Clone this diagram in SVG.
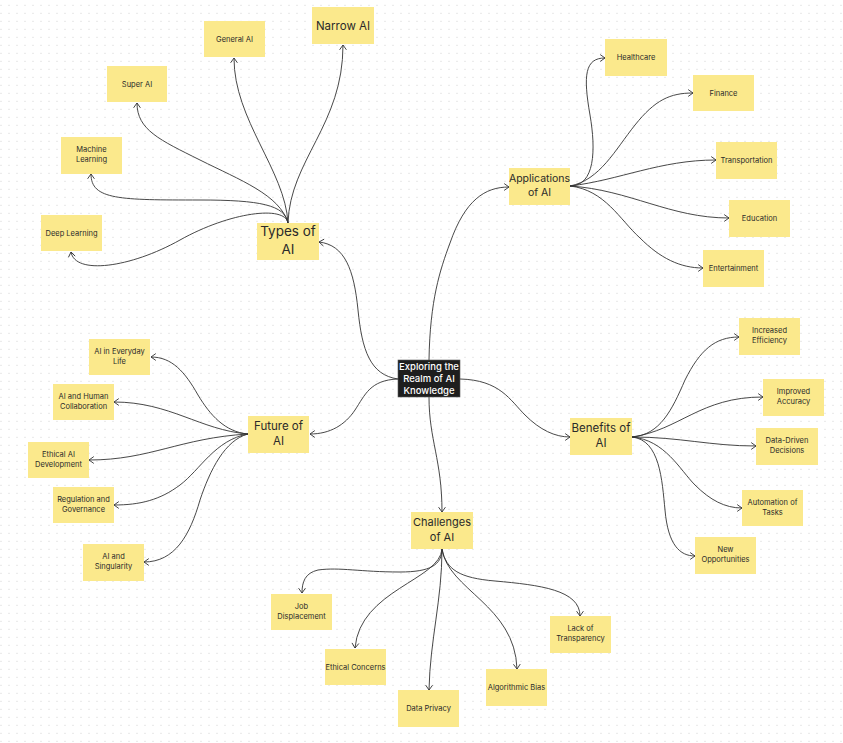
<svg xmlns="http://www.w3.org/2000/svg" width="843" height="743" viewBox="0 0 843 743">
<defs>
<pattern id="dots" x="0" y="0" width="8" height="8" patternUnits="userSpaceOnUse">
<rect x="0.5" y="4.8" width="1" height="1" fill="#cfcfcf"/>
</pattern>
<marker id="arr" markerWidth="10" markerHeight="10" refX="0" refY="0" orient="auto" markerUnits="userSpaceOnUse" viewBox="-6 -5 8 10" overflow="visible">
<path d="M-4.5,-3.2 L0,0 L-4.5,3.2" fill="none" stroke="#333" stroke-width="0.9" stroke-linecap="round" stroke-linejoin="round"/>
</marker>
<style>
.st{fill:#fbe98c;}
.ctr{fill:#1e1e1e;stroke:#5a5a5a;stroke-width:0.6;}
text{font-family:Inter,"Noto Sans","Liberation Sans",sans-serif;fill:#2a2a2a;text-anchor:middle;}
.s{font-size:7.5px;}
.m{font-size:11.5px;}
.l{font-size:13.5px;}
.c{font-size:9.5px;fill:#ffffff;font-weight:500;}
.cn path{fill:none;stroke:#333;stroke-width:0.9;marker-end:url(#arr);}
</style>
</defs>
<rect width="843" height="743" fill="#ffffff"/>
<rect width="843" height="743" fill="url(#dots)"/>

<g id="connectors" class="cn">
<path d="M398,379 C370,375 362,350 358,310 C354,270 345,245 319,242"/>
<path d="M429,360 C430,300 440,270 450,243 C465,200 485,187 509,187"/>
<path d="M398,379 C370,380 365,395 355,410 C345,425 330,434 310,434"/>
<path d="M460,379 C500,380 510,400 525,415 C540,430 555,437 570,437"/>
<path d="M429,397 C429,440 442,460 442,512"/>
<path d="M288,223 C290,160 343,125 343,45"/>
<path d="M288,223 C285,170 234,120 234,58"/>
<path d="M288,223 C280,195 240,180 200,160 C160,140 137,130 137,103"/>
<path d="M288,223 C285,205 260,200 200,200 C120,200 91,200 91,174"/>
<path d="M288,223 C285,205 230,212 180,240 C130,268 75,275 71,252"/>
<path d="M570,186 C595,186 596,150 590,115 C583,75 585,58 605,58"/>
<path d="M570,186 C600,180 615,150 635,125 C655,100 670,93 693,93"/>
<path d="M570,186 C620,180 660,160 716,160"/>
<path d="M570,186 C630,190 670,218 729,218"/>
<path d="M570,186 C605,190 620,220 640,238 C660,258 680,268 703,268"/>
<path d="M632,437 C660,435 672,410 685,380 C700,350 715,337 739,337"/>
<path d="M632,437 C680,430 700,397 763,397"/>
<path d="M632,437 C680,437 710,446 756,446"/>
<path d="M632,437 C665,440 680,470 695,485 C710,500 725,508 742,508"/>
<path d="M632,437 C660,440 662,480 665,510 C668,545 680,556 695,556"/>
<path d="M248,434 C225,432 210,415 198,395 C185,372 172,357 151,357"/>
<path d="M248,434 C200,430 170,402 114,402"/>
<path d="M248,434 C180,438 150,460 89,460"/>
<path d="M248,434 C215,440 200,470 180,485 C160,500 140,505 114,505"/>
<path d="M248,434 C225,440 210,470 200,500 C190,535 175,562 144,562"/>
<path d="M442,549 C442,565 430,572 400,572 C360,572 340,567 318,570 C305,573 302,582 302,593"/>
<path d="M442,549 C440,580 360,590 355,648"/>
<path d="M442,549 C442,600 430,640 429,690"/>
<path d="M442,549 C448,590 515,605 517,669"/>
<path d="M442,549 C446,570 460,578 495,581 C540,585 580,590 580,616"/>
</g>

<g id="center"><rect class="ctr" x="398" y="360" width="62" height="37"/>
<text class="c" x="429" y="369.5">Exploring the</text><text class="c" x="429" y="381.5">Realm of AI</text><text class="c" x="429" y="393.5">Knowledge</text></g>

<g id="types-of-ai"><rect class="st" x="257" y="223" width="62" height="37"/>
<text class="l" x="288" y="236">Types of</text><text class="l" x="288" y="254">AI</text></g>
<g id="narrow-ai"><rect class="st" x="312" y="7" width="62" height="37"/><text x="343" y="29.5" style="font-size:11.5px">Narrow AI</text></g>
<g id="general-ai"><rect class="st" x="204" y="21" width="61" height="36"/><text class="s" x="234.5" y="41.7">General AI</text></g>
<g id="super-ai"><rect class="st" x="107" y="66" width="60" height="36"/><text class="s" x="137" y="86.7">Super AI</text></g>
<g id="machine-learning"><rect class="st" x="61" y="137" width="61" height="37"/><text class="s" x="91.5" y="152">Machine</text><text class="s" x="91.5" y="162">Learning</text></g>
<g id="deep-learning"><rect class="st" x="41" y="215" width="61" height="36"/><text class="s" x="71.5" y="235.7">Deep Learning</text></g>

<g id="applications-of-ai"><rect class="st" x="509" y="168" width="61" height="37"/>
<text class="m" x="539.5" y="181.5" style="font-size:10.5px">Applications</text><text class="m" x="539.5" y="196" style="font-size:10.5px">of AI</text></g>
<g id="healthcare"><rect class="st" x="605" y="39" width="62" height="37"/><text class="s" x="636" y="60.2">Healthcare</text></g>
<g id="finance"><rect class="st" x="693" y="75" width="61" height="36"/><text class="s" x="723.5" y="95.7">Finance</text></g>
<g id="transportation"><rect class="st" x="716" y="142" width="61" height="37"/><text class="s" x="746.5" y="163.2">Transportation</text></g>
<g id="education"><rect class="st" x="729" y="200" width="61" height="37"/><text class="s" x="759.5" y="221.2">Education</text></g>
<g id="entertainment"><rect class="st" x="703" y="250" width="61" height="37"/><text class="s" x="733.5" y="271.2">Entertainment</text></g>

<g id="future-of-ai"><rect class="st" x="248" y="416" width="61" height="37"/>
<text class="m" x="278.5" y="429.5">Future of</text><text class="m" x="278.5" y="444.5">AI</text></g>
<g id="ai-in-everyday-life"><rect class="st" x="89" y="339" width="61" height="36"/><text class="s" x="119.5" y="353.5">AI in Everyday</text><text class="s" x="119.5" y="363.5">Life</text></g>
<g id="ai-and-human-collaboration"><rect class="st" x="53" y="384" width="61" height="36"/><text class="s" x="83.5" y="398.5">AI and Human</text><text class="s" x="83.5" y="408.5">Collaboration</text></g>
<g id="ethical-ai-development"><rect class="st" x="28" y="442" width="61" height="36"/><text class="s" x="58.5" y="456.5">Ethical AI</text><text class="s" x="58.5" y="466.5">Development</text></g>
<g id="regulation-and-governance"><rect class="st" x="53" y="487" width="61" height="36"/><text class="s" x="83.5" y="501.5">Regulation and</text><text class="s" x="83.5" y="511.5">Governance</text></g>
<g id="ai-and-singularity"><rect class="st" x="83" y="544" width="61" height="37"/><text class="s" x="113.5" y="559">AI and</text><text class="s" x="113.5" y="569">Singularity</text></g>

<g id="benefits-of-ai"><rect class="st" x="570" y="418" width="62" height="37"/>
<text class="m" x="601" y="431.5">Benefits of</text><text class="m" x="601" y="446.5">AI</text></g>
<g id="increased-efficiency"><rect class="st" x="739" y="318" width="61" height="37"/><text class="s" x="769.5" y="333">Increased</text><text class="s" x="769.5" y="343">Efficiency</text></g>
<g id="improved-accuracy"><rect class="st" x="763" y="379" width="61" height="37"/><text class="s" x="793.5" y="394">Improved</text><text class="s" x="793.5" y="404">Accuracy</text></g>
<g id="data-driven-decisions"><rect class="st" x="756" y="428" width="62" height="37"/><text class="s" x="787" y="443">Data-Driven</text><text class="s" x="787" y="453">Decisions</text></g>
<g id="automation-of-tasks"><rect class="st" x="742" y="490" width="61" height="36"/><text class="s" x="772.5" y="504.5">Automation of</text><text class="s" x="772.5" y="514.5">Tasks</text></g>
<g id="new-opportunities"><rect class="st" x="695" y="537" width="61" height="37"/><text class="s" x="725.5" y="552">New</text><text class="s" x="725.5" y="562">Opportunities</text></g>

<g id="challenges-of-ai"><rect class="st" x="411" y="512" width="62" height="37"/>
<text class="m" x="442" y="525.5" style="font-size:11px">Challenges</text><text class="m" x="442" y="540.5" style="font-size:11px">of AI</text></g>
<g id="job-displacement"><rect class="st" x="271" y="594" width="61" height="36"/><text class="s" x="301.5" y="608.5">Job</text><text class="s" x="301.5" y="618.5">Displacement</text></g>
<g id="ethical-concerns"><rect class="st" x="325" y="649" width="61" height="36"/><text class="s" x="355.5" y="669.7">Ethical Concerns</text></g>
<g id="data-privacy"><rect class="st" x="398" y="690" width="61" height="37"/><text class="s" x="428.5" y="711.2">Data Privacy</text></g>
<g id="algorithmic-bias"><rect class="st" x="486" y="669" width="61" height="37"/><text class="s" x="516.5" y="690.2">Algorithmic Bias</text></g>
<g id="lack-of-transparency"><rect class="st" x="550" y="616" width="61" height="37"/><text class="s" x="580.5" y="631">Lack of</text><text class="s" x="580.5" y="641">Transparency</text></g>
</svg>
